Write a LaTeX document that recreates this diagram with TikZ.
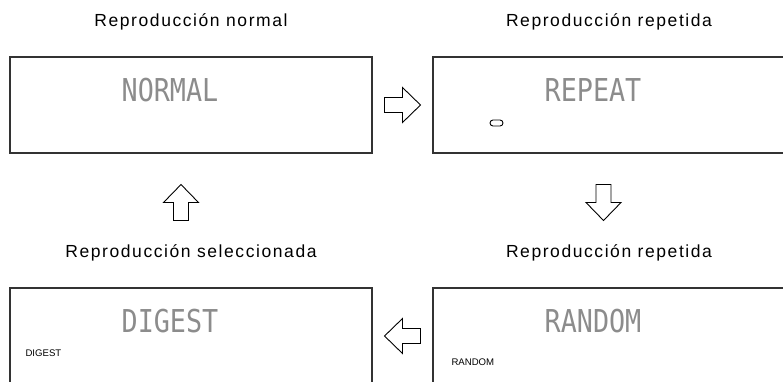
\documentclass[tikz,border=0pt]{standalone}
\usepackage{fontspec}
\setmainfont{Liberation Sans}
\newfontfamily\lcdfont[FakeStretch=0.85]{DejaVu Sans Mono}
\usetikzlibrary{positioning,calc}

\tikzset{
  display/.style={draw=black!80, line width=1.2pt, minimum height=96pt, inner sep=0pt, outer sep=0pt},
  caption/.style={font=\fontsize{17.5}{19}\selectfont\addfontfeature{LetterSpace=9}, anchor=base},
  lcd/.style={font=\lcdfont\fontsize{31.5}{32}\selectfont, text=black!45},
  tag/.style={font=\fontsize{9.6}{11}\selectfont, anchor=west},
  blockarrow/.pic={
    \draw[line width=0.9pt] (-18,-7.5) -- (0,-7.5) -- (0,-17.5) -- (18,0)
      -- (0,17.5) -- (0,7.5) -- (-18,7.5) -- cycle;
  }
}

\begin{document}
\begin{tikzpicture}[x=1pt, y=-1pt]
  \clip (0,0) rectangle (783,381);
  % the four displays
  \node[display, minimum width=362pt] (normal) at (191,105) {};
  \node[display, minimum width=352pt, right=61pt of normal] (repeat) {};
  \node[display, minimum width=362pt, below=135pt of normal] (digest) {};
  \node[display, minimum width=352pt, below=135pt of repeat] (random) {};
  \foreach \n/\w/\t in {normal/NORMAL/Reproducción normal,
      repeat/REPEAT/Reproducción repetida,
      digest/DIGEST/Reproducción seleccionada,
      random/RANDOM/Reproducción repetida} {
    \node[lcd] (\n-lcd) at ([shift={(160,33)}]\n.north west) {\w};
    \node[caption] (\n-cap) at ([yshift=31pt]\n.north) {\t};
  }
  \node[tag] (digest-tag) at ([shift={(12,65)}]digest.north west) {DIGEST};
  \node[tag] (random-tag) at ([shift={(15,74)}]random.north west) {RANDOM};
  \draw[line width=0.9pt, rounded corners=3pt] ([shift={(57,63)}]repeat.north west)
    rectangle +(13,6);
  % block arrows between the displays
  \pic at ($(normal.east)!0.5!(repeat.west)$) {blockarrow};
  \pic[rotate=-90] at ($(repeat.south)!0.5!(random.north) + (-5.5,-18)$) {blockarrow};
  \pic[rotate=180] at ($(random.west)!0.5!(digest.east)$) {blockarrow};
  \pic[rotate=90] at ($(digest.north)!0.5!(normal.south) + (-10,-18)$) {blockarrow};
\end{tikzpicture}
\end{document}
